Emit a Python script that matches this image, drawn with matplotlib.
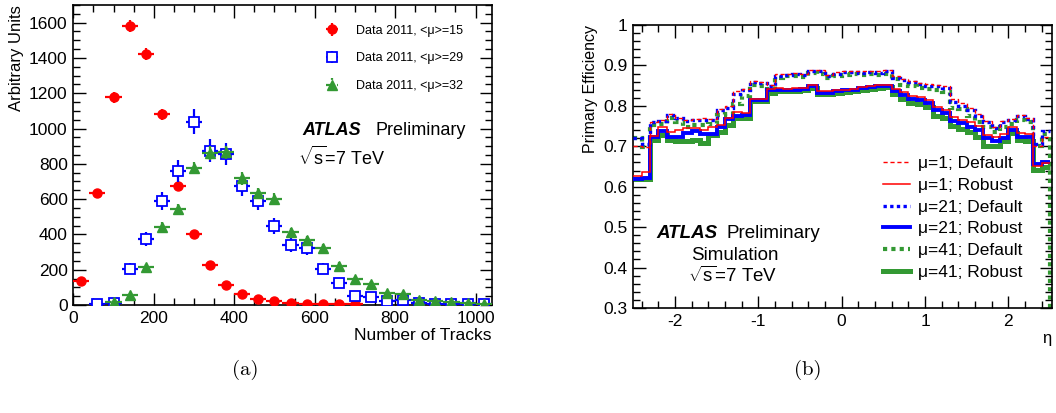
import matplotlib
matplotlib.use("Agg")
import matplotlib.pyplot as plt
import numpy as np
from matplotlib.ticker import MultipleLocator

plt.rcParams['font.family'] = ['Liberation Sans', 'DejaVu Sans']
plt.rcParams['mathtext.fontset'] = 'custom'
plt.rcParams['mathtext.rm'] = 'Liberation Sans'
plt.rcParams['mathtext.it'] = 'Liberation Sans:italic'
plt.rcParams['axes.unicode_minus'] = False

# ---- panel (a): track multiplicity ----
track_half_bin = 20

red_x = [20, 60, 100, 140, 180, 220, 260, 300, 340, 380, 420, 460, 500, 540, 580, 620, 660, 700]
red_y = [138, 632, 1177, 1581, 1425, 1081, 675, 402, 225, 113, 62, 32, 23, 13, 8, 4, 4, 4]
red_err = [10, 22, 31, 36, 34, 30, 23, 18, 13, 10, 7, 5, 4, 3, 3, 2, 2, 2]

blue_x = [60, 100, 140, 180, 220, 260, 300, 340, 380, 420, 460, 500, 540, 580, 620, 660,
          700, 740, 780, 820, 860, 900, 940, 980, 1020]
blue_y = [6, 11, 206, 374, 589, 760, 1038, 874, 855, 675, 590, 447, 338, 323, 206, 126,
          51, 45, 25, 26, 13, 8, 6, 6, 5]
blue_err = [4, 6, 31, 42, 53, 61, 71, 65, 64, 57, 53, 46, 40, 39, 31, 24,
            15, 14, 10, 10, 7, 5, 5, 5, 4]

green_x = [100, 140, 180, 220, 260, 300, 340, 380, 420, 460, 500, 540, 580, 620, 660, 700,
           740, 780, 820, 860, 900, 940, 980, 1020]
green_y = [15, 55, 213, 443, 545, 777, 862, 865, 717, 632, 600, 411, 368, 321, 223, 145,
           121, 70, 62, 28, 25, 15, 13, 6]
green_err = [5, 10, 19, 27, 30, 36, 38, 38, 35, 33, 32, 26, 25, 23, 19, 16,
             14, 11, 10, 7, 6, 5, 5, 3]

# ---- panel (b): efficiency vs eta ----
eta_edges = np.round(np.arange(-2.5, 2.5001, 0.1), 2)

mu1_default = [0.700, 0.698, 0.760, 0.766, 0.780, 0.770, 0.766, 0.768, 0.770, 0.768,
               0.792, 0.800, 0.836, 0.842, 0.862, 0.858, 0.852, 0.878, 0.880, 0.882,
               0.880, 0.889, 0.888, 0.877, 0.883, 0.886, 0.886, 0.885, 0.886, 0.885,
               0.888, 0.873, 0.866, 0.862, 0.856, 0.853, 0.851, 0.848, 0.818, 0.808,
               0.795, 0.780, 0.762, 0.748, 0.762, 0.768, 0.778, 0.770, 0.700, 0.722]
mu1_robust = [0.627, 0.637, 0.726, 0.748, 0.735, 0.740, 0.744, 0.745, 0.740, 0.748,
              0.752, 0.770, 0.785, 0.782, 0.818, 0.818, 0.841, 0.843, 0.842, 0.843,
              0.844, 0.851, 0.836, 0.836, 0.839, 0.840, 0.842, 0.847, 0.849, 0.852,
              0.852, 0.842, 0.834, 0.824, 0.822, 0.815, 0.797, 0.790, 0.772, 0.766,
              0.760, 0.750, 0.728, 0.722, 0.730, 0.748, 0.734, 0.730, 0.652, 0.658]
mu21_default = [0.720, 0.706, 0.761, 0.763, 0.778, 0.770, 0.762, 0.765, 0.765, 0.765,
                0.790, 0.795, 0.830, 0.840, 0.860, 0.856, 0.848, 0.875, 0.877, 0.880,
                0.877, 0.887, 0.887, 0.875, 0.880, 0.884, 0.884, 0.882, 0.884, 0.882,
                0.886, 0.870, 0.863, 0.858, 0.853, 0.850, 0.848, 0.845, 0.810, 0.800,
                0.790, 0.775, 0.760, 0.745, 0.760, 0.765, 0.776, 0.768, 0.705, 0.738]
mu21_robust = [0.620, 0.622, 0.724, 0.739, 0.722, 0.722, 0.733, 0.738, 0.731, 0.730,
               0.748, 0.768, 0.776, 0.778, 0.815, 0.815, 0.838, 0.840, 0.840, 0.840,
               0.841, 0.849, 0.833, 0.833, 0.836, 0.838, 0.840, 0.845, 0.846, 0.849,
               0.850, 0.836, 0.826, 0.817, 0.815, 0.808, 0.790, 0.782, 0.762, 0.757,
               0.748, 0.740, 0.720, 0.712, 0.720, 0.741, 0.724, 0.722, 0.656, 0.660]
mu41_default = [0.720, 0.697, 0.752, 0.755, 0.770, 0.760, 0.748, 0.752, 0.752, 0.755,
                0.778, 0.780, 0.805, 0.825, 0.852, 0.848, 0.842, 0.870, 0.873, 0.873,
                0.872, 0.882, 0.880, 0.870, 0.874, 0.877, 0.878, 0.876, 0.878, 0.876,
                0.880, 0.866, 0.852, 0.848, 0.845, 0.842, 0.840, 0.835, 0.795, 0.792,
                0.775, 0.760, 0.748, 0.735, 0.748, 0.755, 0.765, 0.760, 0.700, 0.730]
mu41_robust = [0.618, 0.618, 0.716, 0.727, 0.715, 0.712, 0.712, 0.716, 0.707, 0.728,
               0.735, 0.753, 0.770, 0.770, 0.812, 0.812, 0.832, 0.836, 0.836, 0.837,
               0.838, 0.845, 0.829, 0.829, 0.832, 0.834, 0.836, 0.840, 0.842, 0.845,
               0.846, 0.830, 0.818, 0.808, 0.805, 0.798, 0.776, 0.770, 0.750, 0.742,
               0.735, 0.724, 0.700, 0.700, 0.712, 0.733, 0.716, 0.714, 0.642, 0.648]

GREEN = '#339933'


def root_style(ax):
    ax.tick_params(which='both', direction='in', top=True, right=True,
                   labelsize=12.5, pad=4)
    ax.tick_params(which='major', length=9, width=1)
    ax.tick_params(which='minor', length=5, width=1)
    for s in ax.spines.values():
        s.set_linewidth(1.2)


fig = plt.figure(figsize=(10.56, 4.13), dpi=100)
ax1 = fig.add_axes([73.3 / 1056, 108 / 413, 418.4 / 1056, 300 / 413])
ax2 = fig.add_axes([633.3 / 1056, 105 / 413, 418.4 / 1056, 283 / 413])

# panel (a)
ax1.errorbar(red_x, red_y, xerr=track_half_bin, yerr=red_err, fmt='o', color='red',
             ms=6.5, elinewidth=1.6, capsize=0, label='Data 2011, <μ>=15', zorder=3)
ax1.errorbar(blue_x, blue_y, xerr=track_half_bin, yerr=blue_err, fmt='s', color='blue',
             mfc='white', mec='blue', mew=1.3, ms=7.5, elinewidth=1.6, capsize=0,
             label='Data 2011, <μ>=29', zorder=4)
eb = ax1.errorbar(green_x, green_y, xerr=track_half_bin, yerr=green_err, fmt='^', color=GREEN,
                  ms=6.5, elinewidth=1.6, capsize=0, label='Data 2011, <μ>=32', zorder=5)
eb[2][0].set_linestyle((0, (3, 2)))

ax1.set_xlim(0, 1040)
ax1.set_ylim(0, 1700)
ax1.xaxis.set_major_locator(MultipleLocator(200))
ax1.xaxis.set_minor_locator(MultipleLocator(50))
ax1.yaxis.set_major_locator(MultipleLocator(200))
ax1.yaxis.set_minor_locator(MultipleLocator(50))
root_style(ax1)
ax1.set_ylabel('Arbitrary Units', loc='top', fontsize=12)
ax1.set_xlabel('Number of Tracks', loc='right', fontsize=12.5, labelpad=2)

ax1.legend(loc='upper right', bbox_to_anchor=(0.958, 0.972), frameon=False, fontsize=9,
           labelspacing=1.25, handlelength=2.6, handletextpad=0.6)

ax1.text(0.547, 0.583, 'ATLAS', transform=ax1.transAxes, fontsize=13,
         fontweight='bold', fontstyle='italic', va='center')
ax1.text(0.723, 0.583, 'Preliminary', transform=ax1.transAxes, fontsize=13, va='center')
ax1.text(0.537, 0.493, r'$\sqrt{\mathrm{s}}$=7 TeV', transform=ax1.transAxes,
         fontsize=13, va='center')

# panel (b)
ax2.stairs(mu41_robust, eta_edges, baseline=None, color=GREEN, lw=3.6,
           label='μ=41; Robust', zorder=2)
ax2.stairs(mu21_robust, eta_edges, baseline=None, color='blue', lw=2.8,
           label='μ=21; Robust', zorder=3)
ax2.stairs(mu1_robust, eta_edges, baseline=None, color='red', lw=1.1,
           label='μ=1; Robust', zorder=4)
ax2.stairs(mu41_default, eta_edges, baseline=None, color=GREEN, lw=3.0, ls=(0, (1, 1)),
           label='μ=41; Default', zorder=2)
ax2.vlines(eta_edges[-1], 0.3, mu41_default[-1], color=GREEN, lw=3.0, ls=(0, (1, 1)))
ax2.stairs(mu21_default, eta_edges, baseline=None, color='blue', lw=2.4, ls=(0, (1, 1)),
           label='μ=21; Default', zorder=3)
ax2.stairs(mu1_default, eta_edges, baseline=None, color='red', lw=1.0, ls=(0, (3, 2)),
           label='μ=1; Default', zorder=4)

ax2.set_xlim(-2.5, 2.52)
ax2.set_ylim(0.3, 1.0)
ax2.xaxis.set_major_locator(MultipleLocator(1))
ax2.xaxis.set_minor_locator(MultipleLocator(0.2))
ax2.yaxis.set_minor_locator(MultipleLocator(0.02))
ax2.set_yticks(np.arange(0.3, 1.01, 0.1))
ax2.set_yticklabels(['0.3', '0.4', '0.5', '0.6', '0.7', '0.8', '0.9', '1'])
root_style(ax2)
ax2.set_ylabel('Primary Efficiency', loc='top', fontsize=11.5)
ax2.set_xlabel('η', loc='right', fontsize=12, labelpad=2)

handles, labels = ax2.get_legend_handles_labels()
order = ['μ=1; Default', 'μ=1; Robust', 'μ=21; Default', 'μ=21; Robust',
         'μ=41; Default', 'μ=41; Robust']
hmap = dict(zip(labels, handles))
ax2.legend([hmap[k] for k in order], order, loc='upper left', bbox_to_anchor=(0.596, 0.537),
           frameon=False, fontsize=12.5, labelspacing=0.38, handlelength=1.6,
           handletextpad=0.45, borderaxespad=0, borderpad=0)

ax2.text(0.054, 0.265, 'ATLAS', transform=ax2.transAxes, fontsize=13.5,
         fontweight='bold', fontstyle='italic', va='center')
ax2.text(0.223, 0.265, 'Preliminary', transform=ax2.transAxes, fontsize=13.5, va='center')
ax2.text(0.139, 0.184, 'Simulation', transform=ax2.transAxes, fontsize=13.5, va='center')
ax2.text(0.131, 0.113, r'$\sqrt{\mathrm{s}}$=7 TeV', transform=ax2.transAxes,
         fontsize=13.5, va='center')

fig.text(245 / 1056, 1 - 370 / 413, '(a)', family='cmr10', fontsize=15, ha='center', va='center')
fig.text(808 / 1056, 1 - 370 / 413, '(b)', family='cmr10', fontsize=15, ha='center', va='center')

fig.savefig('out.png', dpi=100)
